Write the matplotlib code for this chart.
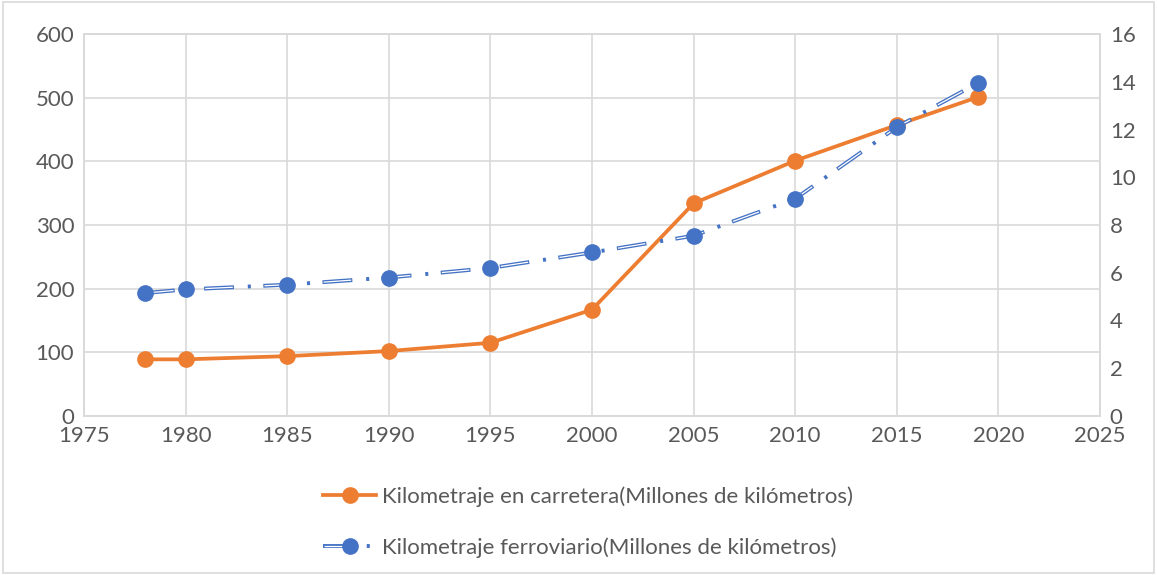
import numpy as np
import matplotlib.pyplot as plt
from matplotlib.lines import Line2D
from matplotlib.patches import Rectangle
from matplotlib.legend_handler import HandlerTuple

plt.rcParams['font.family'] = ['Lato', 'DejaVu Sans']
plt.rcParams['lines.scale_dashes'] = False

# data
years = [1978, 1980, 1985, 1990, 1995, 2000, 2005, 2010, 2015, 2019]
carretera = [89, 89, 94, 102, 115, 167, 334, 401, 457, 501]
ferroviario = [5.15, 5.3, 5.5, 5.8, 6.2, 6.85, 7.55, 9.1, 12.1, 13.95]
lab_carr = 'Kilometraje en carretera(Millones de kilómetros)'
lab_ferr = 'Kilometraje ferroviario(Millones de kilómetros)'

orange = '#ED7D31'
blue = '#4472C4'
grid_c = '#D9D9D9'
txt_c = '#595959'
fs = 16
ms = 11

fig = plt.figure(figsize=(11.57, 5.75), dpi=100)
ax1 = fig.add_axes([84/1157, 1-416/575, (1100-84)/1157, (416-34)/575])
ax2 = ax1.twinx()

# orange series on left axis
ax1.plot(years, carretera, color=orange, lw=2.7, marker='o', ms=ms, zorder=3)

# blue series: double-line dash-dot on right axis
dash, g1, dot, g2 = 21.5, 10, 2.2, 9
period = dash + g1 + dot + g2
shrink = 0.8
ls_outer = (0, (dash, g1, dot, g2))
ls_inner = (period - shrink, (dash - 2*shrink, period - dash + 2*shrink))
ax2.plot(years, ferroviario, color=blue, lw=2.8, ls=ls_outer,
         dash_capstyle='butt', zorder=2)
ax2.plot(years, ferroviario, color='white', lw=0.9, ls=ls_inner,
         dash_capstyle='butt', zorder=2)
ax2.plot(years, ferroviario, ls='none', marker='o', ms=ms, color=blue, zorder=3)

ax1.set_xlim(1975, 2025)
ax1.set_xticks(range(1975, 2026, 5))
ax1.set_ylim(0, 600)
ax1.set_yticks(range(0, 601, 100))
ax2.set_ylim(0, 16)
ax2.set_yticks(range(0, 17, 2))

ax1.grid(True, color=grid_c, lw=1.2)
ax1.set_axisbelow(True)
for ax in (ax1, ax2):
    for s in ax.spines.values():
        s.set_color(grid_c)
        s.set_linewidth(1.2)
    ax.tick_params(length=0, labelsize=fs, colors=txt_c, pad=7)

# legend
h_carr = Line2D([], [], color=orange, lw=2.7, marker='o', ms=ms)
h_b1 = Line2D([], [], color=blue, lw=2.8, ls=ls_outer, dash_capstyle='butt')
h_b2 = Line2D([], [], color='white', lw=0.9, ls=ls_inner, dash_capstyle='butt')
h_b3 = Line2D([], [], ls='none', color=blue, marker='o', ms=ms)
fig.legend([h_carr, (h_b1, h_b2, h_b3)], [lab_carr, lab_ferr],
           handler_map={tuple: HandlerTuple(ndivide=1)},
           loc='center', bbox_to_anchor=(588/1157, 1-522/575), ncol=1,
           frameon=False, fontsize=fs, labelcolor=txt_c,
           handlelength=2.4, handletextpad=0.25, labelspacing=1.35)

fig.patches.append(Rectangle((0.003, 0.003), 0.994, 0.994, transform=fig.transFigure,
                             fill=False, edgecolor=grid_c, lw=1.2))

fig.savefig('out.png', dpi=100)
